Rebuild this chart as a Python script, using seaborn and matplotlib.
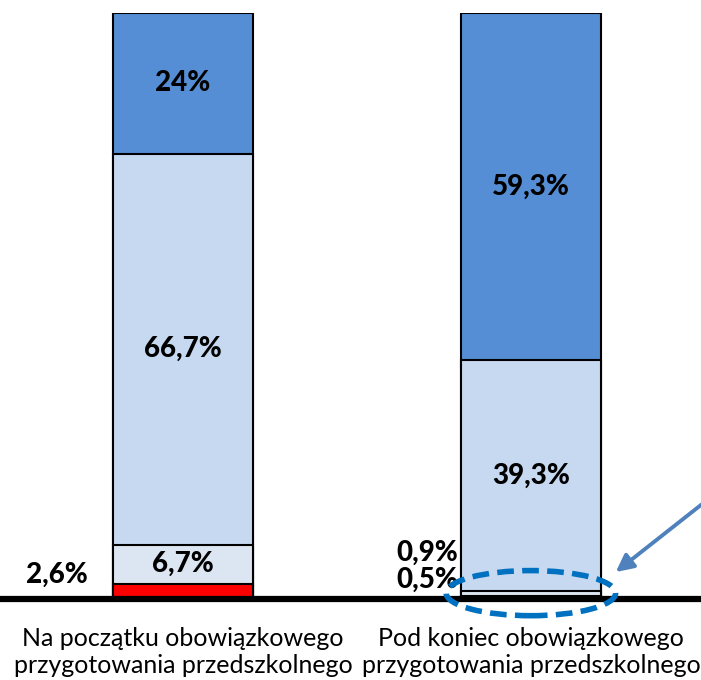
import numpy as np
import pandas as pd
import matplotlib
matplotlib.use("Agg")
import matplotlib.pyplot as plt
from matplotlib.patches import Ellipse
import seaborn as sns

# data (bottom -> top segments)
categories = ["Na początku obowiązkowego\nprzygotowania przedszkolnego",
              "Pod koniec obowiązkowego\nprzygotowania przedszkolnego"]
seg_red = [2.6, 0.5]
seg_pale = [6.7, 0.9]
seg_light = [66.7, 39.3]
seg_blue = [24.0, 59.3]
seg_labels = [["2,6%", "6,7%", "66,7%", "24%"],
              ["0,5%", "0,9%", "39,3%", "59,3%"]]

colors = ["#FF0000", "#DCE6F2", "#C6D9F1", "#558ED5"]

sns.set_style("white")
plt.rcParams["font.family"] = ["Lato", "DejaVu Sans"]
plt.rcParams["text.color"] = "black"
plt.rcParams["xtick.color"] = "black"

segs = np.array([seg_red, seg_pale, seg_light, seg_blue])
cum = np.cumsum(segs, axis=0)

fig = plt.figure(figsize=(7.01, 6.80), dpi=100)
ax = fig.add_axes([0, 1 - 599 / 680, 1, (599 - 13) / 680])

# stacked bars: draw cumulative totals from the top segment down
for i in range(3, -1, -1):
    df = pd.DataFrame({"cat": categories, "val": cum[i]})
    sns.barplot(data=df, x="cat", y="val", color=colors[i], width=0.402,
                edgecolor="black", linewidth=1.5, saturation=1, ax=ax, zorder=2)

ax.set_xlim(-0.526, 1.489)
ax.set_ylim(0, 100)
ax.axhline(0, color="black", lw=4.5, zorder=5, clip_on=False)

fs = 20
# labels inside segments
for j in range(2):
    bottoms = np.concatenate([[0], cum[:-1, j]])
    for i in range(4):
        if segs[i, j] < 5:
            continue
        ax.text(j, bottoms[i] + segs[i, j] / 2, seg_labels[j][i],
                ha="center", va="center", fontsize=fs, fontweight="black")

# small values next to the bars
ax.text(-0.362, 4.1, seg_labels[0][0], ha="center", va="center",
        fontsize=fs, fontweight="black")
ax.text(0.79, 7.8, seg_labels[1][1], ha="right", va="center",
        fontsize=fs, fontweight="black")
ax.text(0.79, 3.2, seg_labels[1][0], ha="right", va="center",
        fontsize=fs, fontweight="black")

# highlight ellipse and arrow
ell = Ellipse((1.0, 1.0), 0.487, 7.7, fill=False, edgecolor="#0070C0",
              lw=4, ls=(0, (3, 1.5)), zorder=6, clip_on=False)
ax.add_patch(ell)
ax.annotate("", xy=(1.244, 4.6), xytext=(1.52, 17.5),
            arrowprops=dict(arrowstyle="-|>", color="#4F81BD", lw=2.8,
                            mutation_scale=26, shrinkA=0, shrinkB=0),
            annotation_clip=False, zorder=6)

ax.set_xlabel("")
ax.set_ylabel("")
ax.set_yticks([])
ax.tick_params(axis="x", length=0, pad=20, labelsize=18)
for lbl in ax.get_xticklabels():
    lbl.set_linespacing(1.2)
sns.despine(ax=ax, left=True, bottom=True)

fig.savefig("out.png", dpi=100)
